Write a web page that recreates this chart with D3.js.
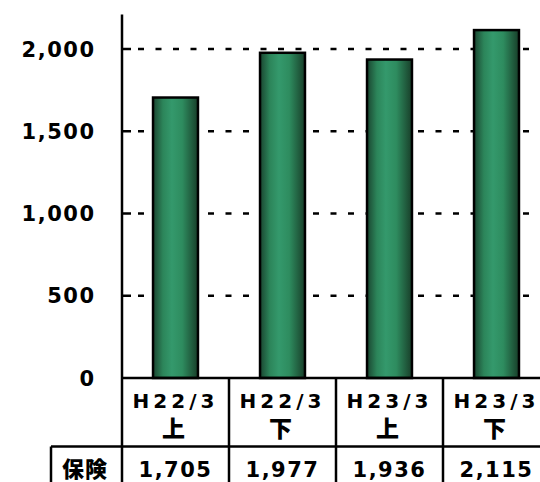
<!DOCTYPE html>
<html>
<head>
<meta charset="utf-8">
<script src="https://cdn.jsdelivr.net/npm/d3@7"></script>
<style>
  body { margin: 0; background: #fff; }
  svg text { font-family: "DejaVu Sans", "Noto Sans CJK JP", sans-serif; font-weight: bold; fill: #000; }
  svg text.cjk { font-family: "Noto Sans CJK JP", sans-serif; font-weight: 900; }
</style>
</head>
<body>
<svg id="chart" width="540" height="482"></svg>
<script>
// données
const periodes = ["H22/3", "H22/3", "H23/3", "H23/3"];
const moities = ["上", "下", "上", "下"];
const serieNom = "保険";
const valeurs = [1705, 1977, 1936, 2115];
const graduations = [0, 500, 1000, 1500, 2000];

const svg = d3.select("#chart");

// échelles
const x = d3.scaleBand().domain(d3.range(valeurs.length)).range([122, 550]).padding(0);
const y = d3.scaleLinear().domain([0, 2000]).range([378, 49]);
const largeurBarre = x.bandwidth() * 0.42;

// dégradé des barres
const grad = svg.append("defs").append("linearGradient").attr("id", "vert")
  .attr("x1", "0%").attr("x2", "100%").attr("y1", "0%").attr("y2", "0%");
[["0%", "#1a4530"], ["22%", "#2c855a"], ["42%", "#34996c"], ["65%", "#2e8c5f"], ["100%", "#183e29"]]
  .forEach(s => grad.append("stop").attr("offset", s[0]).attr("stop-color", s[1]));

// lignes de grille en pointillés
svg.append("g").selectAll("line").data(graduations.filter(d => d > 0)).join("line")
  .attr("x1", 138).attr("x2", 540)
  .attr("y1", d => y(d)).attr("y2", d => y(d))
  .attr("stroke", "#000").attr("stroke-width", 2.5).attr("stroke-dasharray", "6,11.5");

// petites graduations
svg.append("g").selectAll("line").data(graduations.filter(d => d > 0)).join("line")
  .attr("x1", 122).attr("x2", 131)
  .attr("y1", d => y(d)).attr("y2", d => y(d))
  .attr("stroke", "#000").attr("stroke-width", 2.5);

// barres
svg.append("g").selectAll("rect").data(valeurs).join("rect")
  .attr("x", (d, i) => x(i) + (x.bandwidth() - largeurBarre) / 2)
  .attr("y", d => y(d))
  .attr("width", largeurBarre)
  .attr("height", d => y(0) - y(d))
  .attr("fill", "url(#vert)")
  .attr("stroke", "#000").attr("stroke-width", 2.5);

// axe vertical
svg.append("line").attr("x1", 122).attr("x2", 122).attr("y1", y(2210)).attr("y2", 482)
  .attr("stroke", "#000").attr("stroke-width", 2.5);

// étiquettes de l'axe Y
svg.append("g").selectAll("text").data(graduations).join("text")
  .attr("x", 95.5).attr("y", d => y(d) + 7.7)
  .attr("text-anchor", "end")
  .style("font-size", "21px").style("letter-spacing", "1.5px")
  .text(d => d3.format(",")(d));

// tableau de données
const tab = svg.append("g");
const ligne1 = 446.5;
tab.append("line").attr("x1", 122).attr("x2", 540).attr("y1", y(0)).attr("y2", y(0))
  .attr("stroke", "#000").attr("stroke-width", 2.5);
tab.append("line").attr("x1", 51).attr("x2", 540).attr("y1", ligne1).attr("y2", ligne1)
  .attr("stroke", "#000").attr("stroke-width", 2.5);
tab.append("line").attr("x1", 51).attr("x2", 51).attr("y1", ligne1).attr("y2", 482)
  .attr("stroke", "#000").attr("stroke-width", 2.5);
tab.selectAll("line.sep").data(d3.range(1, valeurs.length)).join("line").attr("class", "sep")
  .attr("x1", i => x(i)).attr("x2", i => x(i)).attr("y1", y(0)).attr("y2", 482)
  .attr("stroke", "#000").attr("stroke-width", 2.5);

tab.selectAll("text.per").data(periodes).join("text").attr("class", "per")
  .attr("x", (d, i) => x(i) + x.bandwidth() / 2).attr("y", 407.5)
  .attr("text-anchor", "middle")
  .style("font-size", "20px").style("letter-spacing", "4px")
  .text(d => d);
tab.selectAll("text.moi").data(moities).join("text").attr("class", "moi cjk")
  .attr("x", (d, i) => x(i) + x.bandwidth() / 2 - 2).attr("y", 437)
  .attr("text-anchor", "middle")
  .style("font-size", "23px")
  .text(d => d);
tab.selectAll("text.val").data(valeurs).join("text").attr("class", "val")
  .attr("x", (d, i) => x(i) + x.bandwidth() / 2).attr("y", 477)
  .attr("text-anchor", "middle")
  .style("font-size", "21px").style("letter-spacing", "1.5px")
  .text(d => d3.format(",")(d));
tab.append("text").attr("class", "cjk").attr("x", 85).attr("y", 477).attr("text-anchor", "middle")
  .style("font-size", "22px").style("letter-spacing", "1px")
  .text(serieNom);
</script>
</body>
</html>
